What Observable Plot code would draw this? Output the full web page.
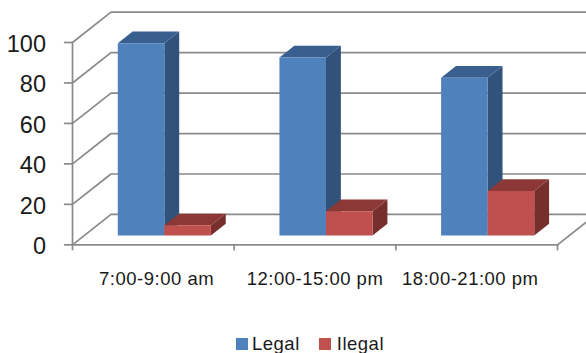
<!DOCTYPE html>
<html>
<head>
<meta charset="utf-8">
<script src="https://cdn.jsdelivr.net/npm/d3@7"></script>
<script src="https://cdn.jsdelivr.net/npm/@observablehq/plot@0.6"></script>
<style>
  html, body { margin: 0; padding: 0; background: #fff; }
  body { width: 586px; height: 353px; overflow: hidden; font-family: "Liberation Sans", Arial, sans-serif; color: #1a1a1a; }
  .cat text { letter-spacing: 0.5px; }
  #legend { display: flex; align-items: center; height: 33px; padding-left: 236px; font-size: 18.5px; letter-spacing: 0.5px; box-sizing: border-box; padding-top: 14px; }
  #legend i { display: inline-block; width: 12px; height: 12px; margin-right: 4px; }
  #legend span { margin-right: 19px; }
  #legend span + i + span { margin-left: 2px; }
</style>
</head>
<body>
<div id="chart"></div>
<div id="legend"></div>
<script>
// Share of vehicles by time slot
const categories = ["7:00-9:00 am", "12:00-15:00 pm", "18:00-21:00 pm"];
const legal = [95, 88, 78];
const ilegal = [5, 12, 22];
const yTicks = [0, 20, 40, 60, 80, 100];
const xTicks = [0, 1, 2, 3];
const labelSlots = [0.52, 1.5, 2.46];

const seriesList = [
  {name: "Legal", values: legal, front: "#4f81bd", top: "#385f8e", side: "#30527b", slot: 0},
  {name: "Ilegal", values: ilegal, front: "#c0504d", top: "#8c3836", side: "#772f2d", slot: 1}
];

// Oblique projection: depth 1 is the back wall of the chart box
const depthX = 0.238;
const depthY = 15;
const project = (x, v, d) => ({x: x + d * depthX, y: v + d * depthY});

// Column footprint inside a category slot
const barStart = 0.207;
const barWidth = 0.288;
const depthNear = 0.307;
const depthFar = 0.693;

const faces = [];
categories.forEach((cat, i) => {
  for (const s of seriesList) {
    const v = s.values[i];
    const x0 = i + barStart + s.slot * barWidth;
    const x1 = x0 + barWidth;
    const addFace = (name, color, corners) => corners.forEach(([x, val, d]) =>
      faces.push({...project(x, val, d), face: `${cat}-${s.name}-${name}`, color}));
    addFace("side", s.side, [[x1, 0, depthNear], [x1, 0, depthFar], [x1, v, depthFar], [x1, v, depthNear]]);
    addFace("top", s.top, [[x0, v, depthNear], [x1, v, depthNear], [x1, v, depthFar], [x0, v, depthFar]]);
    addFace("front", s.front, [[x0, 0, depthNear], [x1, 0, depthNear], [x1, v, depthNear], [x0, v, depthNear]]);
  }
});

// Back wall gridlines and the left wall diagonals running into them
const wallRows = [];
yTicks.forEach(v => {
  [[0, v, 0], [0, v, 1], [3.2, v, 1]].forEach(([x, val, d]) =>
    wallRows.push({...project(x, val, d), line: v}));
});
const floorEdge = [[3, 0, 0], [3, 0, 1]].map(([x, v, d]) => project(x, v, d));

const axisColor = "#8a8a8a";
const axisWidth = 1.7;

const plot = Plot.plot({
  width: 586,
  height: 320,
  marginTop: 42,
  marginBottom: 75.7,
  marginLeft: 72,
  marginRight: 29,
  style: {background: "#fff", fontFamily: "'Liberation Sans', Arial, sans-serif", color: "#1a1a1a"},
  x: {type: "linear", domain: [0, 3], axis: null},
  y: {type: "linear", domain: [0, 100], axis: null},
  marks: [
    Plot.line(wallRows, {x: "x", y: "y", z: "line", stroke: axisColor, strokeWidth: axisWidth}),
    Plot.line(floorEdge, {x: "x", y: "y", stroke: axisColor, strokeWidth: axisWidth}),
    Plot.ruleY([0], {x1: 0, x2: 3, stroke: axisColor, strokeWidth: axisWidth}),
    Plot.ruleX([0], {y1: 0, y2: 100, stroke: axisColor, strokeWidth: axisWidth}),
    Plot.ruleX(xTicks, {y1: 0, y2: -3, stroke: axisColor, strokeWidth: axisWidth}),
    Plot.ruleY(yTicks, {x1: 0, x2: -0.05, stroke: axisColor, strokeWidth: axisWidth}),
    Plot.line(faces, {x: "x", y: "y", z: "face", fill: "color", stroke: "none"}),
    Plot.text(yTicks, {x: 0, y: d => d, text: d => String(d), textAnchor: "end", dx: -26.5, dy: 2, fontSize: 23.5, fill: "#1a1a1a"}),
    Plot.text(categories, {x: (d, i) => labelSlots[i], y: 0, text: d => d, dy: 34, fontSize: 18.5, fill: "#1a1a1a", className: "cat"})
  ]
});
document.getElementById("chart").append(plot);

// Series key below the chart
const legendBox = d3.select("#legend");
for (const s of seriesList) {
  legendBox.append("i").style("background", s.front);
  legendBox.append("span").text(s.name);
}
</script>
</body>
</html>
